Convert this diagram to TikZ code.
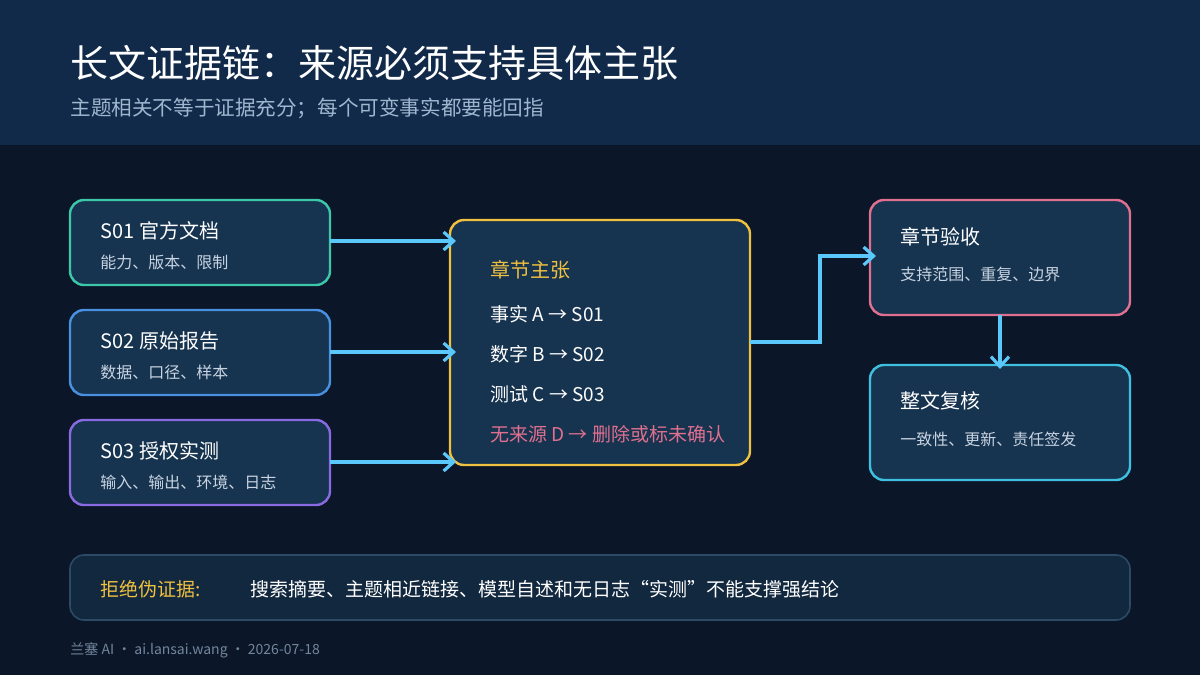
\documentclass[tikz,border=0pt]{standalone}
\usepackage{fontspec}
\setmainfont{Noto Sans CJK SC}
\usetikzlibrary{arrows.meta,positioning}
\definecolor{bgdark}{HTML}{0B1628}
\definecolor{bghead}{HTML}{112A4A}
\definecolor{boxfill}{HTML}{16334F}
\definecolor{barfill}{HTML}{12283F}
\definecolor{barline}{HTML}{2C4A66}
\definecolor{arrowc}{HTML}{5AC8FA}
\definecolor{teal}{HTML}{3CC8A8}
\definecolor{blueb}{HTML}{4A90E0}
\definecolor{purp}{HTML}{8A6AE0}
\definecolor{gold}{HTML}{F0C040}
\definecolor{pinkb}{HTML}{E07090}
\definecolor{cyanb}{HTML}{40C0E0}
\definecolor{subtxt}{HTML}{C8D4E2}
\definecolor{headsub}{HTML}{9FB6CF}
\tikzset{
  every node/.style={inner sep=0pt},
  card/.style={draw=#1, line width=1.2pt, fill=boxfill, rounded corners=7pt},
  ttl/.style={anchor=west, text=white, font=\fontsize{10}{12}\selectfont},
  sub/.style={anchor=west, text=subtxt, font=\fontsize{8}{10}\selectfont},
  line/.style={anchor=west, text=white, font=\fontsize{9.5}{11}\selectfont},
  flow/.style={draw=arrowc, line width=1.6pt, -{Straight Barb[length=5pt,width=9pt]}}
}
\begin{document}
\begin{tikzpicture}[x=0.5pt,y=-0.5pt]
    % Background and header
    \fill[bgdark] (0,0) rectangle (1200,675);
    \fill[bghead] (0,0) rectangle (1200,145);
    \useasboundingbox (0,0) rectangle (1200,675);
    \node[anchor=west, text=white, font=\fontsize{19}{22}\selectfont] at (70,63) {长文证据链：来源必须支持具体主张};
    \node[anchor=west, text=headsub, font=\fontsize{10.3}{12}\selectfont] at (70,108) {主题相关不等于证据充分；每个可变事实都要能回指};

    % Source cards
    \draw[card=teal] (70,200) rectangle (330,285);
    \coordinate (s1) at (330,241);
    \node[ttl] at (100,231) {S01 官方文档};
    \node[sub] at (100,262) {能力、版本、限制};
    \draw[card=blueb] (70,310) rectangle (330,395);
    \coordinate (s2) at (330,352);
    \node[ttl] at (100,341) {S02 原始报告};
    \node[sub] at (100,372) {数据、口径、样本};
    \draw[card=purp] (70,420) rectangle (330,505);
    \coordinate (s3) at (330,462);
    \node[ttl] at (100,451) {S03 授权实测};
    \node[sub] at (100,482) {输入、输出、环境、日志};

    % Claim card
    \draw[card=gold] (450,220) rectangle (750,465);
    \coordinate (claimw) at (456,342);
    \coordinate (claime) at (750,342);
    \node[line, text=gold, font=\fontsize{10}{12}\selectfont] at (490,270) {章节主张};
    \node[line] at (490,314) {事实 A → S01};
    \node[line] at (490,354) {数字 B → S02};
    \node[line] at (490,394) {测试 C → S03};
    \node[line, text=pinkb] at (490,434) {无来源 D → 删除或标未确认};

    % Review cards
    \draw[card=pinkb] (870,200) rectangle (1130,315);
    \coordinate (acc) at (876,256);
    \coordinate (accs) at (1000,315);
    \node[ttl] at (900,237) {章节验收};
    \node[sub] at (900,274) {支持范围、重复、边界};
    \draw[card=cyanb] (870,365) rectangle (1130,480);
    \coordinate (revn) at (1000,369);
    \node[ttl] at (900,401) {整文复核};
    \node[sub] at (900,439) {一致性、更新、责任签发};

    % Connectors
    \draw[flow] (s1) -- (s1 -| claimw);
    \draw[flow] (s2) -- (s2 -| claimw);
    \draw[flow] (s3) -- (s3 -| claimw);
    \draw[flow] (claime) -- (820,342) -- (820,256) -- (acc);
    \draw[flow] (accs) -- (revn);

    % Bottom bar
    \draw[fill=barfill, draw=barline, line width=0.8pt, rounded corners=7pt] (70,555) rectangle (1130,620);
    \node[line, text=gold] at (100,589) {拒绝伪证据:};
    \node[line] at (250,589) {搜索摘要、主题相近链接、模型自述和无日志“实测”不能支撑强结论};

    % Footer
    \node[anchor=west, text=headsub!70!bgdark, font=\fontsize{7}{9}\selectfont] at (70,650) {兰塞 AI · ai.lansai.wang · 2026-07-18};
\end{tikzpicture}
\end{document}
